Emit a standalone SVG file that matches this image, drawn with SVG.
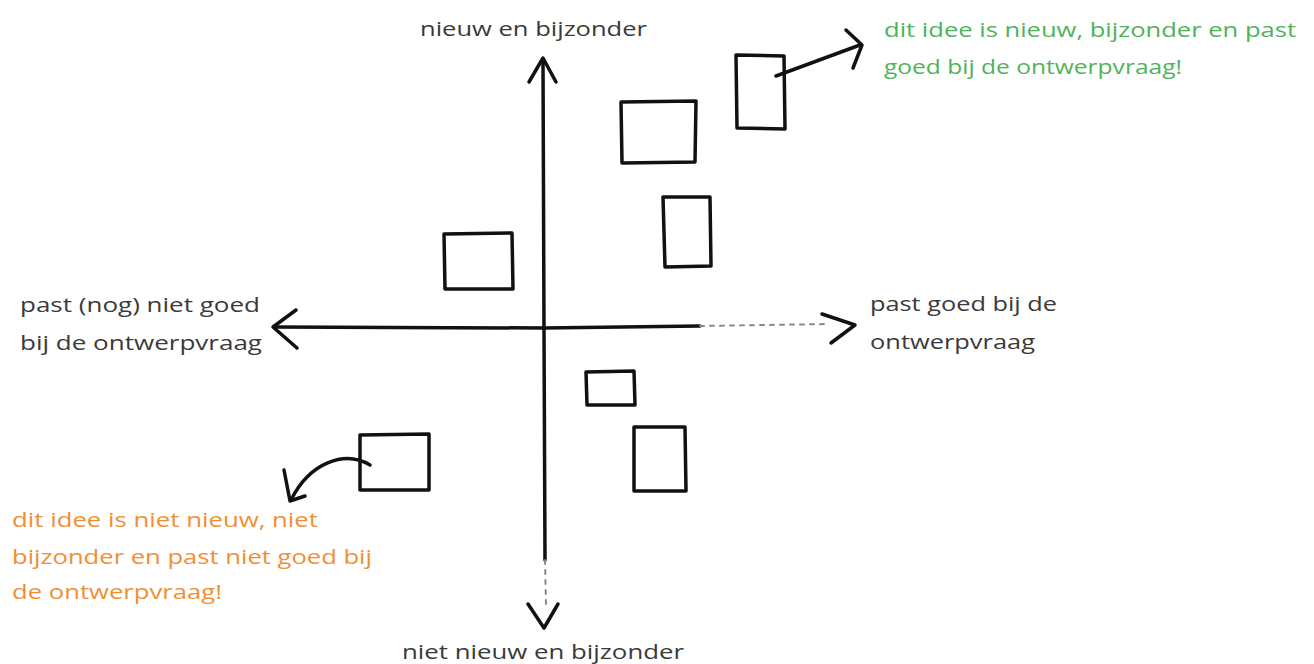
<svg xmlns="http://www.w3.org/2000/svg" width="1314" height="664" viewBox="0 0 1314 664">
<style>
.box{fill:none;stroke:#111;stroke-width:3.5;stroke-linejoin:round;stroke-linecap:round}
.ax{fill:none;stroke:#111;stroke-width:3.5;stroke-linecap:round;stroke-linejoin:round}
.fade{fill:none;stroke:#888;stroke-width:2;stroke-dasharray:4 6;stroke-linecap:round}
.t{font-family:"Open Sans","Liberation Sans",sans-serif;font-size:20px;fill:#3a3a3a}
.g{fill:#4fb35a}
.o{fill:#ef8f35}
</style>
<rect width="1314" height="664" fill="#fff"/>
<g id="connectors">
  <path class="ax" d="M543,60 L544,330 L545,560"/>
  <path class="fade" d="M545,560 L546,605"/>
  <path class="ax" d="M529,82 L543,58 L556,82"/>
  <path class="ax" d="M528,604 L544,628 L558,604"/>
  <path class="ax" d="M275,327 L543,328 L700,326"/>
  <path class="fade" d="M700,326 L828,324"/>
  <path class="ax" d="M296,310 L273,327 L297,348"/>
  <path class="ax" d="M822,314 L855,325 L831,343"/>
  <path class="ax" d="M776,76 L860,45"/>
  <path class="ax" d="M846,30 L862,45 L853,68"/>
  <path class="ax" d="M370,465 C345,450 310,462 291,500"/>
  <path class="ax" d="M284,470 L290,501 L305,496"/>
</g>
<g id="box-a"><path class="box" d="M736,55 L784,56 L785,129 L737,128 Z"/></g>
<g id="box-b"><path class="box" d="M621,102 L696,101 L695,162 L622,163 Z"/></g>
<g id="box-c"><path class="box" d="M663,197 L710,197 L711,266 L665,267 Z"/></g>
<g id="box-d"><path class="box" d="M444,234 L512,233 L513,289 L445,289 Z"/></g>
<g id="box-e"><path class="box" d="M586,372 L634,371 L635,405 L587,405 Z"/></g>
<g id="box-f"><path class="box" d="M634,427 L685,427 L686,491 L634,491 Z"/></g>
<g id="box-g"><path class="box" d="M360,435 L429,434 L429,490 L360,490 Z"/></g>
<g id="label-top"><text class="t" x="420" y="36" textLength="227" lengthAdjust="spacingAndGlyphs">nieuw en bijzonder</text></g>
<g id="label-bottom"><text class="t" x="402" y="659" textLength="282" lengthAdjust="spacingAndGlyphs">niet nieuw en bijzonder</text></g>
<g id="label-left">
  <text class="t" x="20" y="312" textLength="240" lengthAdjust="spacingAndGlyphs">past (nog) niet goed</text>
  <text class="t" x="20" y="350" textLength="242" lengthAdjust="spacingAndGlyphs">bij de ontwerpvraag</text>
</g>
<g id="label-right">
  <text class="t" x="870" y="311" textLength="187" lengthAdjust="spacingAndGlyphs">past goed bij de</text>
  <text class="t" x="870" y="349" textLength="165" lengthAdjust="spacingAndGlyphs">ontwerpvraag</text>
</g>
<g id="note-green">
  <text class="t g" x="884" y="37" textLength="412" lengthAdjust="spacingAndGlyphs">dit idee is nieuw, bijzonder en past</text>
  <text class="t g" x="884" y="74" textLength="298" lengthAdjust="spacingAndGlyphs">goed bij de ontwerpvraag!</text>
</g>
<g id="note-orange">
  <text class="t o" x="12" y="527" textLength="306" lengthAdjust="spacingAndGlyphs">dit idee is niet nieuw, niet</text>
  <text class="t o" x="12" y="564" textLength="360" lengthAdjust="spacingAndGlyphs">bijzonder en past niet goed bij</text>
  <text class="t o" x="12" y="599" textLength="210" lengthAdjust="spacingAndGlyphs">de ontwerpvraag!</text>
</g>
</svg>
